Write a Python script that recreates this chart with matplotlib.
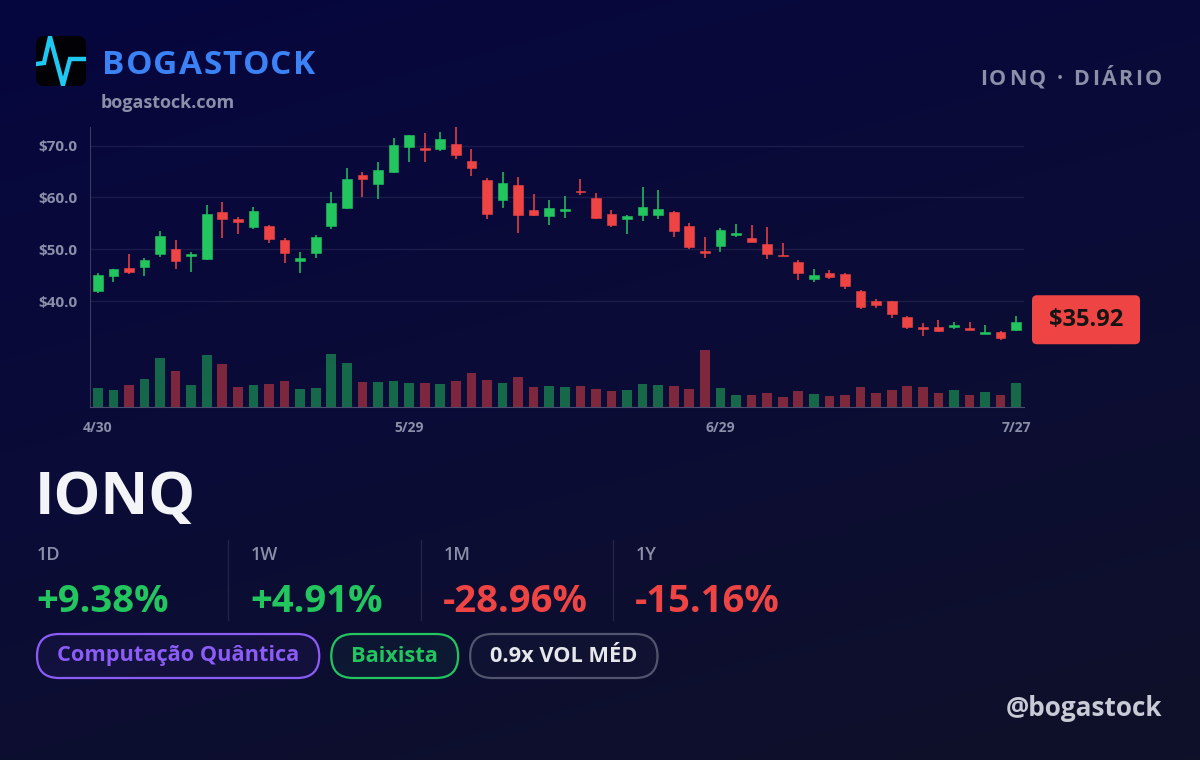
import matplotlib.pyplot as plt
import numpy as np
from matplotlib.colors import LinearSegmentedColormap
from matplotlib.patches import FancyBboxPatch

plt.rcParams["font.family"] = ["Open Sans", "DejaVu Sans"]

# ---- data (daily OHLC) ----
opens = [41.95, 44.84, 46.45, 46.58, 49.09, 50.00, 48.64, 48.13, 57.20, 55.91,
         54.37, 54.50, 51.79, 47.68, 49.22, 54.56, 57.97, 64.28, 62.67, 64.86,
         69.68, 69.62, 69.36, 70.26, 66.98, 63.44, 59.52, 62.35, 57.65, 56.49,
         57.46, 61.32, 59.90, 56.88, 55.85, 56.56, 56.62, 57.27, 54.56, 49.61,
         50.57, 52.70, 52.12, 51.02, 48.96, 47.49, 44.33, 45.49, 45.30, 42.02,
         40.02, 39.96, 36.93, 34.94, 35.00, 35.07, 34.88, 33.65, 34.04, 34.49]
highs = [45.36, 46.26, 49.09, 48.32, 53.53, 51.86, 49.41, 58.55, 59.13, 56.17,
         58.10, 54.63, 52.18, 49.41, 52.76, 61.06, 65.76, 64.99, 66.79, 71.42,
         72.13, 72.39, 72.58, 73.55, 69.36, 63.70, 64.92, 63.96, 60.74, 59.45,
         60.29, 63.57, 60.87, 57.65, 56.62, 61.96, 61.45, 57.40, 55.08, 52.44,
         54.18, 54.82, 54.69, 54.30, 51.28, 47.87, 46.14, 45.94, 45.43, 42.15,
         40.41, 40.02, 37.19, 35.84, 36.36, 36.04, 35.97, 35.45, 34.23, 37.13]
lows = [41.50, 43.75, 45.29, 44.78, 48.58, 46.20, 45.68, 47.87, 52.18, 52.95,
        53.92, 51.28, 47.42, 45.49, 48.32, 53.92, 57.84, 60.10, 59.71, 64.66,
        66.79, 66.92, 69.04, 67.50, 64.21, 55.85, 57.97, 53.21, 56.43, 54.75,
        56.11, 60.55, 55.85, 54.37, 52.89, 55.46, 55.91, 52.31, 50.06, 48.39,
        49.54, 52.38, 51.41, 48.19, 48.64, 44.01, 43.69, 44.33, 42.40, 38.54,
        38.74, 36.81, 34.62, 33.27, 34.10, 34.62, 34.49, 33.65, 32.56, 34.30]
closes = [45.04, 46.13, 45.68, 47.93, 52.50, 47.74, 49.16, 56.81, 55.85, 55.33,
          57.46, 51.92, 49.28, 48.32, 52.44, 58.87, 63.57, 63.63, 65.31, 70.07,
          72.00, 69.23, 71.29, 68.27, 65.63, 56.75, 62.73, 56.62, 56.62, 57.91,
          57.78, 61.00, 55.98, 54.69, 56.43, 58.23, 57.78, 53.60, 50.51, 49.29,
          53.79, 53.15, 51.41, 49.09, 48.64, 45.36, 45.04, 44.72, 42.85, 38.86,
          39.31, 37.51, 35.07, 34.62, 34.23, 35.45, 34.49, 33.97, 32.88, 35.92]
volumes = [19.3, 16.7, 22.0, 28.0, 48.7, 35.7, 21.7, 51.7, 43.3, 20.0,
           22.0, 22.7, 26.3, 18.3, 19.0, 52.7, 44.0, 25.0, 24.7, 26.3,
           23.7, 23.7, 23.0, 25.7, 33.7, 26.7, 23.7, 29.7, 19.7, 21.0,
           20.3, 21.0, 18.3, 16.3, 17.0, 23.3, 22.3, 21.0, 18.3, 56.7,
           19.0, 12.3, 12.0, 14.0, 10.3, 15.7, 12.7, 10.7, 12.0, 19.7,
           14.3, 17.0, 20.7, 20.0, 13.7, 17.0, 12.3, 14.7, 12.3, 23.7]
tick_idx = [0, 20, 40, 59]
tick_labels = ["4/30", "5/29", "6/29", "7/27"]
price_ticks = [40, 50, 60, 70]

ticker = "IONQ"
periods = ["1D", "1W", "1M", "1Y"]
changes = [9.38, 4.91, -28.96, -15.16]
tags = ["Computação Quântica", "Baixista", "0.9x VOL MÉD"]

# ---- palette ----
GREEN = "#22c55e"
RED = "#ef4444"
MUTED = "#8b8fa8"
W, H = 1200, 760

fig = plt.figure(figsize=(W / 100, H / 100), dpi=100)

# background canvas in pixel coordinates
bg = fig.add_axes([0, 0, 1, 1])
bg.set_xlim(0, W)
bg.set_ylim(H, 0)
bg.axis("off")
yy, xx = np.mgrid[0:1:200j, 0:1:200j]
grad = np.clip(0.7 * yy + 0.3 * xx, 0, 1)
bg_cmap = LinearSegmentedColormap.from_list("bg", ["#06063f", "#0b0c36", "#0f1129"])
bg.imshow(grad, cmap=bg_cmap, extent=(0, W, H, 0), aspect="auto",
          interpolation="bilinear", zorder=0)

renderer = fig.canvas.get_renderer()


def text_width(s, **kw):
    t = bg.text(0, 0, s, **kw)
    w = t.get_window_extent(renderer).width
    t.remove()
    return w


def spaced_text(x, y, s, track, ha="left", **kw):
    # matplotlib has no letter-spacing, so place glyphs one by one
    bar = text_width("|", **kw)
    pos = [text_width(s[:i] + "|", **kw) - bar for i in range(len(s) + 1)]
    total = pos[-1] + track * (len(s) - 1)
    x0 = x - total if ha == "right" else x
    for i, ch in enumerate(s):
        bg.text(x0 + pos[i] + track * i, y, ch, ha="left", **kw)


# ---- header ----
logo = FancyBboxPatch((36, 36), 50, 50, boxstyle="round,pad=0,rounding_size=8",
                      facecolor="#020206", edgecolor="none", zorder=2)
bg.add_patch(logo)
pulse, = bg.plot([36, 44, 50, 63, 70, 86], [64, 63, 37, 85, 59, 59],
                 color="#1ec8f2", lw=3.2, solid_joinstyle="miter", zorder=3)
pulse.set_clip_path(logo)

spaced_text(102, 74, "BOGASTOCK", 1.2, fontsize=24, fontweight="bold",
            color="#3b82f6", va="baseline", zorder=3)
bg.text(101, 108, "bogastock.com", fontsize=13, fontweight="bold", color=MUTED,
        va="baseline", zorder=3)
spaced_text(1162, 85, f"{ticker} · DIÁRIO", 2.5, ha="right", fontsize=15.5,
            fontweight="bold", color=MUTED, va="baseline", zorder=3)

# ---- candlestick chart ----
ax = fig.add_axes([90 / W, 1 - 407 / H, (1024 - 90) / W, (407 - 127) / H])
axv = ax.twinx()
ax.set_zorder(axv.get_zorder() + 1)
ax.patch.set_visible(False)

x = np.arange(len(closes))
o, h, l, c = map(np.asarray, (opens, highs, lows, closes))
up = c >= o
colors = np.where(up, GREEN, RED)

axv.bar(x, volumes, width=0.62, color=colors, alpha=0.5, linewidth=0)
axv.set_ylim(0, max(volumes) * 280 / 56.7)
axv.axis("off")

ax.vlines(x, l, h, colors=colors, lw=1.1, zorder=3)
ax.bar(x, np.abs(c - o), bottom=np.minimum(o, c), width=0.62, color=colors,
       edgecolor=colors, linewidth=0.4, zorder=4)

ax.set_xlim(-0.5, len(closes) - 0.5)
ax.set_ylim(19.56, 73.6)
ax.set_yticks(price_ticks, [f"${p:.1f}" for p in price_ticks])
ax.set_xticks(tick_idx, tick_labels)
ax.tick_params(axis="y", length=0, pad=9, labelsize=11, labelcolor=MUTED)
ax.tick_params(axis="x", length=0, pad=10, labelsize=10, labelcolor=MUTED)
for lbl in ax.get_xticklabels() + ax.get_yticklabels():
    lbl.set_fontweight("bold")
ax.grid(axis="y", color="#ffffff", alpha=0.08, lw=1)
ax.grid(axis="x", visible=False)
ax.set_axisbelow(True)
for side in ("top", "right"):
    ax.spines[side].set_visible(False)
ax.spines["left"].set_color("#3a3d60")
ax.spines["bottom"].set_color("#4a4d70")

# last price badge, centred on the last close
fig.canvas.draw()
last_y = H - ax.transData.transform((0, closes[-1]))[1]
bg.add_patch(FancyBboxPatch((1032, last_y - 27), 108, 49,
                            boxstyle="round,pad=0,rounding_size=5",
                            facecolor=RED, edgecolor="none", zorder=3))
bg.text(1086, last_y - 2.5, f"${closes[-1]:.2f}", fontsize=17,
        fontweight="bold", color="#141414", ha="center", va="center", zorder=4)

# ---- ticker + stats ----
bg.text(35, 514, ticker, fontsize=42.5, fontweight="bold", color="#f3f4f8",
        va="baseline", zorder=3)

col_x = [37, 251, 444, 636]
for i, (p, v) in enumerate(zip(periods, changes)):
    bg.text(col_x[i], 560, p, fontsize=13, fontweight="semibold", color=MUTED,
            va="baseline", zorder=3)
    bg.text(col_x[i] - 1, 612, f"{v:+.2f}%", fontsize=27.5, fontweight="bold",
            color=GREEN if v >= 0 else RED, va="baseline", zorder=3)
    if i > 0:
        bg.plot([col_x[i] - 23] * 2, [540, 620], color="#ffffff", alpha=0.1,
                lw=1, zorder=2)

# ---- tags ----
tag_colors = ["#8b5cf6", GREEN, "#e5e7eb"]
tag_edges = ["#8b5cf6", GREEN, "#52556e"]
tx = 37
for t, tc, ec in zip(tags, tag_colors, tag_edges):
    tw = text_width(t, fontsize=15.7, fontweight="bold")
    bw = tw + 40
    bg.add_patch(FancyBboxPatch((tx, 634), bw, 44,
                                boxstyle="round,pad=0,rounding_size=22",
                                facecolor=ec, alpha=0.06, edgecolor="none",
                                zorder=2))
    bg.add_patch(FancyBboxPatch((tx, 634), bw, 44,
                                boxstyle="round,pad=0,rounding_size=22",
                                facecolor="none", edgecolor=ec, lw=1.6,
                                zorder=3))
    bg.text(tx + bw / 2, 656, t, fontsize=15.7, fontweight="bold", color=tc,
            ha="center", va="center", zorder=4)
    tx += bw + 12

bg.text(1162, 708, "@bogastock", fontsize=18.8, fontweight="bold",
        color="#c8cad6", ha="right", va="center", zorder=3)

fig.savefig("out.png", dpi=100)
